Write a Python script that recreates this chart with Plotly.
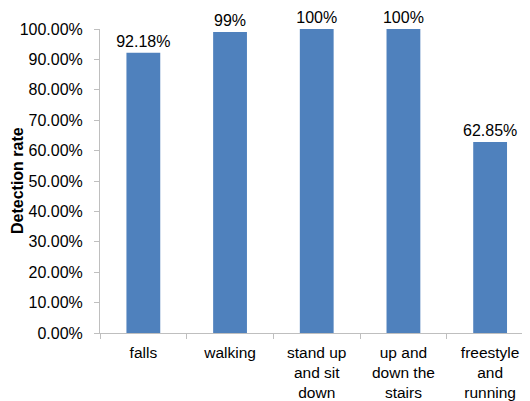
import plotly.graph_objects as go

categories = ["falls", "walking", "stand up<br>and sit<br>down", "up and<br>down the<br>stairs", "freestyle<br>and<br>running"]
rates = [0.9218, 0.99, 1.00, 1.00, 0.6285]
rate_labels = ["92.18%", "99%", "100%", "100%", "62.85%"]
y_title = "Detection rate"

FONT = "Liberation Sans, Arial, sans-serif"
AXIS_GRAY = "#bfbfbf"

# page body adds an 8px margin; figure sized/margined to compensate
W, H = 522, 393
ML, MT, MB, MR = 92, 21, 68, 0
plot_w = W - ML - MR

fig = go.Figure(go.Bar(
    x=categories,
    y=rates,
    text=rate_labels,
    textposition="outside",
    textfont=dict(size=16, color="black", family=FONT),
    constraintext="none",
    cliponaxis=False,
    marker=dict(color="#4f81bd", line=dict(width=0)),
    width=0.39,
))

fig.update_layout(
    width=W, height=H,
    margin=dict(l=ML, r=MR, t=MT, b=MB, autoexpand=False),
    paper_bgcolor="white", plot_bgcolor="white",
    font=dict(family=FONT, size=16, color="black"),
    showlegend=False,
)
fig.update_xaxes(
    range=[-0.5, 4.46], automargin=False,
    showline=True, linecolor=AXIS_GRAY, linewidth=1,
    ticks="outside", ticklen=5, tickcolor=AXIS_GRAY, tickson="boundaries",
    showgrid=False, zeroline=False,
    tickfont=dict(size=15.5, color="black"),
    ticklabelstandoff=5,
)
fig.update_yaxes(
    range=[0, 1], dtick=0.1, tick0=0, tickformat=".2%", automargin=False,
    showline=True, linecolor=AXIS_GRAY, linewidth=1,
    ticks="outside", ticklen=5, tickcolor=AXIS_GRAY,
    showgrid=False, zeroline=False,
    tickfont=dict(size=16, color="black"),
    ticklabelstandoff=8,
)
fig.add_annotation(
    text="<b>" + y_title + "</b>", textangle=-90,
    xref="paper", yref="paper", x=(9 - ML) / plot_w, y=0.5,
    xanchor="center", yanchor="middle", showarrow=False,
    font=dict(size=16, color="black", family=FONT),
)

fig.write_html("out.html")
